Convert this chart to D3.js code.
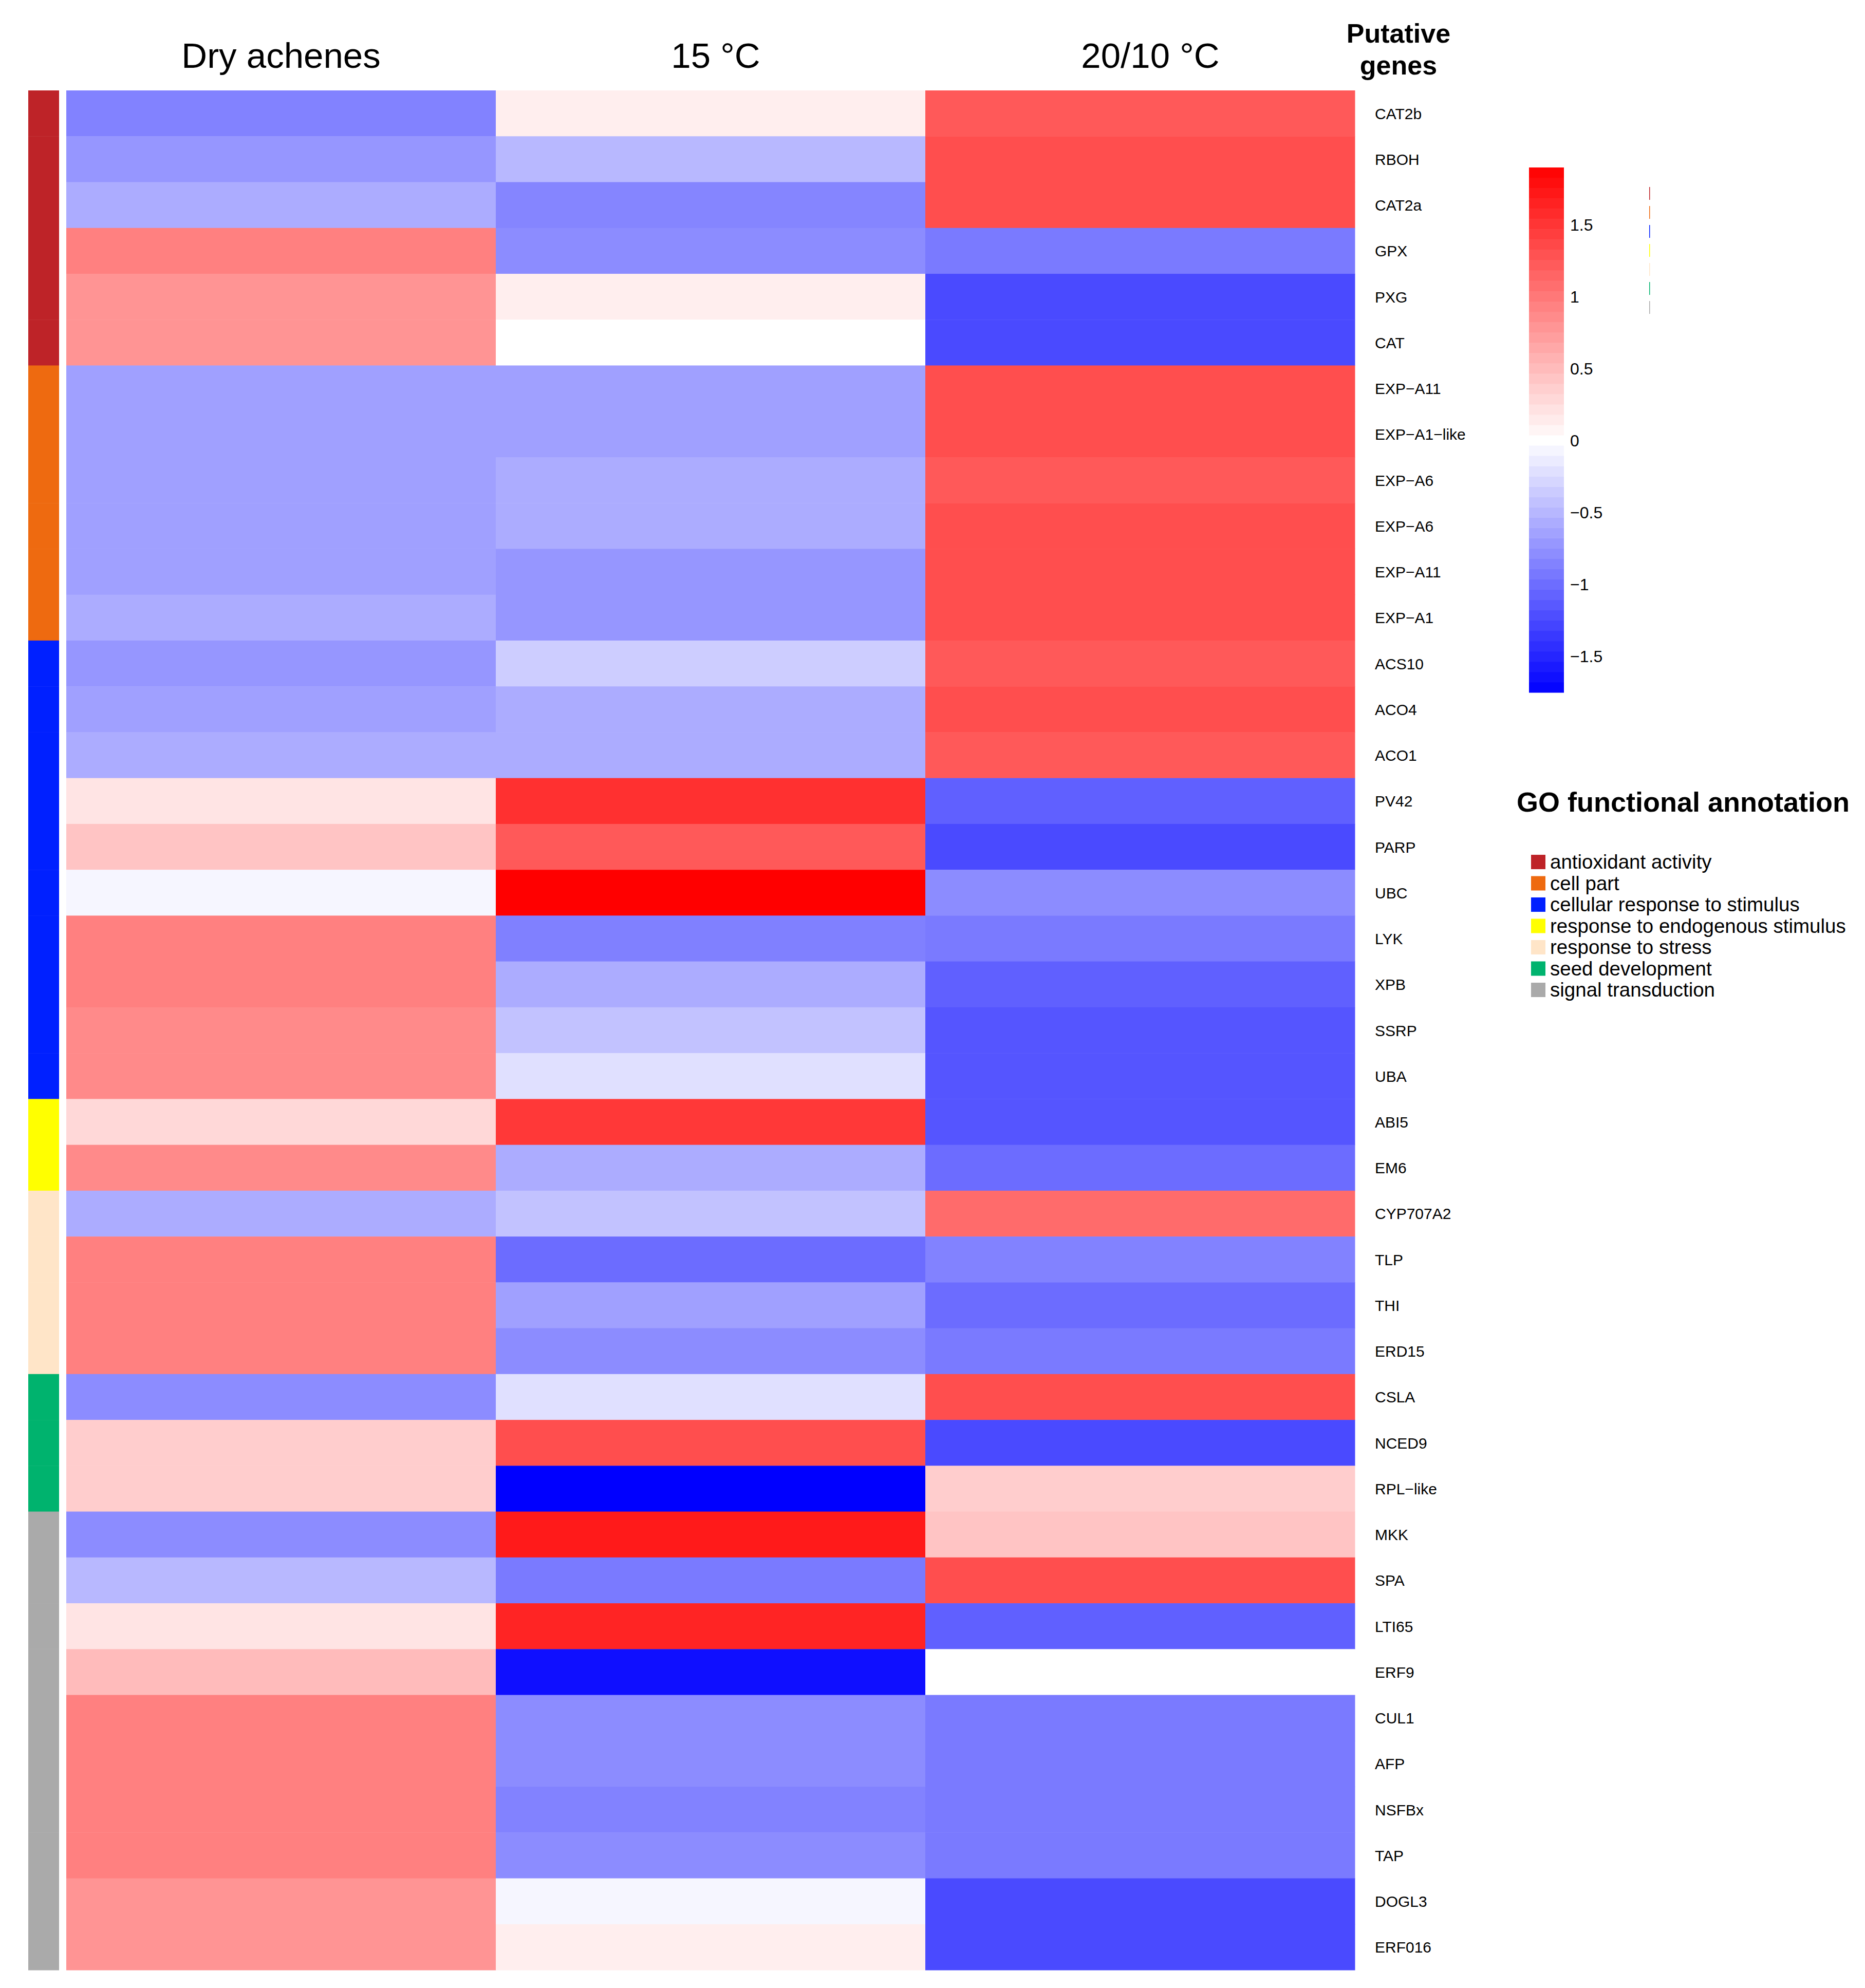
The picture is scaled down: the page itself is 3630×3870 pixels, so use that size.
<!DOCTYPE html>
<html>
<head>
<meta charset="utf-8">
<script src="https://cdn.jsdelivr.net/npm/d3@7"></script>
<style>
  body { margin: 0; background: #fff; }
  text { font-family: "Liberation Sans", Arial, Helvetica, sans-serif; }
</style>
</head>
<body>
<svg id="heatmap" width="3630" height="3870"></svg>
<script>
// conditions (columns)
const conditions = ['Dry achenes', '15 °C', '20/10 °C'];

// genes (rows, top to bottom)
const genes = ['CAT2b', 'RBOH', 'CAT2a', 'GPX', 'PXG', 'CAT',
  'EXP−A11', 'EXP−A1−like', 'EXP−A6', 'EXP−A6', 'EXP−A11', 'EXP−A1',
  'ACS10', 'ACO4', 'ACO1', 'PV42', 'PARP', 'UBC', 'LYK', 'XPB', 'SSRP', 'UBA',
  'ABI5', 'EM6',
  'CYP707A2', 'TLP', 'THI', 'ERD15',
  'CSLA', 'NCED9', 'RPL−like',
  'MKK', 'SPA', 'LTI65', 'ERF9', 'CUL1', 'AFP', 'NSFBx', 'TAP', 'DOGL3', 'ERF016'];

// GO group of each gene
const geneGroup = [0, 0, 0, 0, 0, 0,
  1, 1, 1, 1, 1, 1,
  2, 2, 2, 2, 2, 2, 2, 2, 2, 2,
  3, 3,
  4, 4, 4, 4,
  5, 5, 5,
  6, 6, 6, 6, 6, 6, 6, 6, 6, 6];

// scaled expression per condition
const dryAchenes = [-0.86, -0.72, -0.57, 0.95, 0.80, 0.80,
  -0.65, -0.65, -0.65, -0.65, -0.65, -0.57,
  -0.72, -0.65, -0.57, 0.20, 0.44, -0.06, 0.95, 0.95, 0.87, 0.87,
  0.29, 0.87,
  -0.57, 0.95, 0.95, 0.95,
  -0.79, 0.37, 0.37,
  -0.79, -0.49, 0.20, 0.51, 0.95, 0.95, 0.95, 0.95, 0.80, 0.80];
const at15 = [0.13, -0.49, -0.84, -0.79, 0.13, 0.00,
  -0.65, -0.65, -0.57, -0.57, -0.72, -0.72,
  -0.34, -0.57, -0.57, 1.54, 1.24, 1.90, -0.87, -0.57, -0.42, -0.21,
  1.48, -0.57,
  -0.42, -1.01, -0.65, -0.79,
  -0.21, 1.32, -1.75,
  1.71, -0.91, 1.63, -1.65, -0.79, -0.79, -0.86, -0.79, -0.06, 0.13];
const at2010 = [1.24, 1.32, 1.32, -0.91, -1.24, -1.24,
  1.32, 1.32, 1.24, 1.32, 1.32, 1.32,
  1.24, 1.32, 1.24, -1.09, -1.24, -0.79, -0.91, -1.09, -1.17, -1.17,
  -1.17, -1.01,
  1.10, -0.86, -1.01, -0.91,
  1.32, -1.24, 0.37,
  0.44, 1.32, -1.09, 0.00, -0.91, -0.91, -0.91, -0.91, -1.24, -1.24];

const groupNames = ['antioxidant activity', 'cell part', 'cellular response to stimulus',
  'response to endogenous stimulus', 'response to stress', 'seed development', 'signal transduction'];
const groupColors = ['#be2328', '#ee6a10', '#0020ff', '#ffff00', '#ffe5c8', '#00b36e', '#aaaaaa'];

const colorTicks = [1.5, 1, 0.5, 0, -0.5, -1, -1.5];
const colorDomain = [-1.75, 1.9];

const series = [dryAchenes, at15, at2010];

const svg = d3.select('#heatmap');

const x = d3.scaleBand().domain(d3.range(conditions.length)).range([129, 2637]);
const y = d3.scaleBand().domain(d3.range(genes.length)).range([176, 3835]);
const color = d3.scaleLinear()
  .domain([colorDomain[0], 0, colorDomain[1]])
  .range(['#0000ff', '#ffffff', '#ff0000']);

// cells
const cells = [];
series.forEach((vals, c) => vals.forEach((v, r) => cells.push({ c, r, v })));

svg.append('g')
  .selectAll('rect')
  .data(cells)
  .enter()
  .append('rect')
  .attr('x', d => x(d.c))
  .attr('y', d => y(d.r))
  .attr('width', x.bandwidth() + 0.5)
  .attr('height', y.bandwidth() + 0.5)
  .attr('fill', d => color(d.v));

// annotation bar
svg.append('g')
  .selectAll('rect')
  .data(geneGroup)
  .enter()
  .append('rect')
  .attr('x', 55)
  .attr('y', (g, i) => y(i))
  .attr('width', 60)
  .attr('height', y.bandwidth() + 0.5)
  .attr('fill', g => groupColors[g]);

// column headers (the later ones sit a little right of centre)
svg.append('g')
  .selectAll('text')
  .data(conditions)
  .enter()
  .append('text')
  .attr('x', (d, i) => x(i) + x.bandwidth() / 2 + i * 10)
  .attr('y', 132)
  .attr('text-anchor', 'middle')
  .attr('font-size', 69)
  .text(d => d);

const hdr = svg.append('text')
  .attr('x', 2722)
  .attr('text-anchor', 'middle')
  .attr('font-size', 52)
  .attr('font-weight', 'bold');
hdr.append('tspan').attr('x', 2722).attr('y', 83).text('Putative');
hdr.append('tspan').attr('x', 2722).attr('y', 145).text('genes');

// gene labels
svg.append('g')
  .selectAll('text')
  .data(genes)
  .enter()
  .append('text')
  .attr('x', 2676)
  .attr('y', (d, i) => y(i) + y.bandwidth() / 2 + 11)
  .attr('font-size', 30)
  .text(d => d);

// colour bar
const barTop = 326, barBottom = 1348;
const cb = d3.scaleLinear().domain(colorDomain).range([barBottom, barTop]);
const nBins = 51;
const step = (colorDomain[1] - colorDomain[0]) / nBins;
const bins = d3.range(nBins).map(i => colorDomain[0] + i * step);

svg.append('g')
  .selectAll('rect')
  .data(bins)
  .enter()
  .append('rect')
  .attr('x', 2976)
  .attr('y', d => cb(d + step))
  .attr('width', 68)
  .attr('height', d => cb(d) - cb(d + step) + 0.5)
  .attr('fill', d => {
    const mid = d + step / 2;
    return Math.abs(mid) < step / 2 ? '#ffffff' : color(mid);
  });

svg.append('g')
  .selectAll('text')
  .data(colorTicks)
  .enter()
  .append('text')
  .attr('x', 3056)
  .attr('y', d => cb(d) + 11)
  .attr('font-size', 32)
  .text(d => d3.format('')(d).replace('-', '−'));

// leftover legend key marks
svg.append('g')
  .selectAll('rect')
  .data(groupColors)
  .enter()
  .append('rect')
  .attr('x', 3210)
  .attr('y', (d, i) => 364 + i * 37)
  .attr('width', 1.5)
  .attr('height', 25)
  .attr('fill', d => d);

// GO legend
svg.append('text')
  .attr('x', 2952)
  .attr('y', 1580)
  .attr('font-size', 54)
  .attr('font-weight', 'bold')
  .text('GO functional annotation');

const legend = svg.append('g')
  .selectAll('g')
  .data(groupNames)
  .enter()
  .append('g')
  .attr('transform', (d, i) => `translate(2980, ${1664 + i * 41.5})`);

legend.append('rect')
  .attr('width', 28)
  .attr('height', 28)
  .attr('fill', (d, i) => groupColors[i]);

legend.append('text')
  .attr('x', 37)
  .attr('y', 27)
  .attr('font-size', 38.5)
  .text(d => d);
</script>
</body>
</html>
